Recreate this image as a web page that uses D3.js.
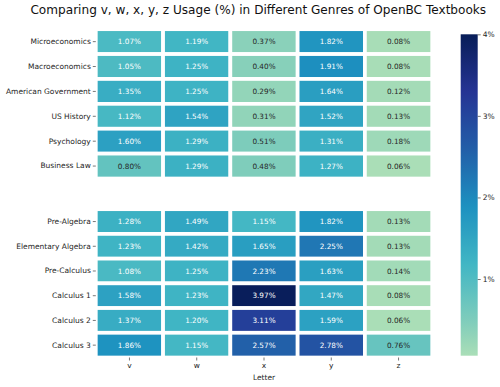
<!DOCTYPE html>
<html>
<head>
<meta charset="utf-8">
<script src="https://cdn.jsdelivr.net/npm/d3@7"></script>
<style>
  html, body { margin: 0; padding: 0; background: #fff; }
  svg { display: block; font-family: "DejaVu Sans", sans-serif; }
</style>
</head>
<body>
<svg id="chart" width="500" height="387"></svg>
<script>
// ---- data ----
const letters = ["v", "w", "x", "y", "z"];
const topGenres = ["Microeconomics", "Macroeconomics", "American Government", "US History", "Psychology", "Business Law"];
const bottomGenres = ["Pre-Algebra", "Elementary Algebra", "Pre-Calculus", "Calculus 1", "Calculus 2", "Calculus 3"];
// values (%) per letter, rows in order topGenres then bottomGenres
const vValues = [1.07, 1.05, 1.35, 1.12, 1.60, 0.80, 1.28, 1.23, 1.08, 1.58, 1.37, 1.86];
const wValues = [1.19, 1.25, 1.25, 1.54, 1.29, 1.29, 1.49, 1.42, 1.25, 1.23, 1.20, 1.15];
const xValues = [0.37, 0.40, 0.29, 0.31, 0.51, 0.48, 1.15, 1.65, 2.23, 3.97, 3.11, 2.57];
const yValues = [1.82, 1.91, 1.64, 1.52, 1.31, 1.27, 1.82, 2.25, 1.63, 1.47, 1.59, 2.78];
const zValues = [0.08, 0.08, 0.12, 0.13, 0.18, 0.06, 0.13, 0.13, 0.14, 0.08, 0.06, 0.76];
const colorbarTicks = [1, 2, 3, 4];
const colorDomain = [0.06, 4.0];
const titleText = "Comparing v, w, x, y, z Usage (%) in Different Genres of OpenBC Textbooks";
const xAxisLabel = "Letter";

const series = { v: vValues, w: wValues, x: xValues, y: yValues, z: zValues };
const allGenres = topGenres.concat(bottomGenres);

// ---- colour map (YlGnBu, lower part truncated) ----
const ylgnbu = ["#ffffd9", "#edf8b1", "#c7e9b4", "#7fcdbb", "#41b6c4", "#1d91c0", "#225ea8", "#253494", "#081d58"];
const baseCmap = d3.scaleLinear().domain(d3.range(9).map(i => i / 8)).range(ylgnbu).interpolate(d3.interpolateRgb);
const tScale = d3.scaleLinear().domain(colorDomain).range([0.3, 1.0]).clamp(true);
const color = v => baseCmap(tScale(v));

function luminance(c) {
  const rgb = d3.rgb(c);
  const f = u => { u /= 255; return u <= 0.03928 ? u / 12.92 : Math.pow((u + 0.055) / 1.055, 2.4); };
  return 0.2126 * f(rgb.r) + 0.7152 * f(rgb.g) + 0.0722 * f(rgb.b);
}

const svg = d3.select("#chart");

// ---- scales ----
const x = d3.scaleBand().domain(letters).range([95.8, 432.2]);
const yTop = d3.scaleBand().domain(topGenres).range([29.2, 178.5]);
const yBot = d3.scaleBand().domain(bottomGenres).range([209.2, 357.5]);

const cells = [];
allGenres.forEach((g, i) => {
  letters.forEach(l => cells.push({ genre: g, letter: l, value: series[l][i], top: i < topGenres.length }));
});
const yOf = d => d.top ? yTop(d.genre) : yBot(d.genre);
const bw = d => d.top ? yTop.bandwidth() : yBot.bandwidth();

const cellG = svg.append("g");
cellG.selectAll("rect").data(cells).join("rect")
  .attr("x", d => x(d.letter))
  .attr("y", d => yOf(d))
  .attr("width", x.bandwidth())
  .attr("height", d => bw(d))
  .attr("fill", d => color(d.value))
  .attr("stroke", "#fff")
  .attr("stroke-width", 3.7);

cellG.selectAll("text").data(cells).join("text")
  .attr("x", d => x(d.letter) + x.bandwidth() / 2)
  .attr("y", d => yOf(d) + bw(d) / 2)
  .attr("dy", "0.35em")
  .attr("text-anchor", "middle")
  .attr("font-size", 7.3)
  .attr("fill", d => luminance(color(d.value)) > 0.408 ? "#262626" : "#ffffff")
  .text(d => d.value.toFixed(2) + "%");

// ---- axes ----
function styleAxis(g) {
  g.select(".domain").remove();
  g.selectAll(".tick line").attr("stroke", "#555").attr("stroke-width", 0.8);
  g.selectAll(".tick text").attr("fill", "#262626").attr("font-size", 7.5).attr("font-family", "DejaVu Sans, sans-serif");
}
svg.append("g").attr("transform", "translate(95.8,0)")
  .call(d3.axisLeft(yTop).tickSize(3).tickPadding(2)).call(styleAxis);
svg.append("g").attr("transform", "translate(95.8,0)")
  .call(d3.axisLeft(yBot).tickSize(3).tickPadding(2)).call(styleAxis);
svg.append("g").attr("transform", "translate(0,357.5)")
  .call(d3.axisBottom(x).tickSize(3).tickPadding(2)).call(styleAxis);

svg.append("text")
  .attr("x", (95.8 + 432.2) / 2)
  .attr("y", 380)
  .attr("text-anchor", "middle")
  .attr("font-size", 7.5)
  .attr("fill", "#262626")
  .text(xAxisLabel);

// ---- title ----
const title = svg.append("text")
  .attr("x", 258.3)
  .attr("y", 14)
  .attr("text-anchor", "middle")
  .attr("font-size", 12)
  .attr("fill", "#111")
  .text(titleText);
const tw = title.node().getComputedTextLength();
title.attr("font-size", 12 * 456 / tw);

// ---- colorbar ----
const cbX = 460.7, cbW = 17, cbTop = 34.3, cbBottom = 355.7;
const cbScale = d3.scaleLinear().domain(colorDomain).range([cbBottom, cbTop]);
const defs = svg.append("defs");
const grad = defs.append("linearGradient").attr("id", "cbgrad")
  .attr("x1", 0).attr("y1", 1).attr("x2", 0).attr("y2", 0);
d3.range(0, 1.0001, 0.02).forEach(t => {
  const v = colorDomain[0] + t * (colorDomain[1] - colorDomain[0]);
  grad.append("stop").attr("offset", t).attr("stop-color", color(v));
});
svg.append("rect")
  .attr("x", cbX).attr("y", cbTop)
  .attr("width", cbW).attr("height", cbBottom - cbTop)
  .attr("fill", "url(#cbgrad)");
svg.append("g").attr("transform", `translate(${cbX + cbW},0)`)
  .call(d3.axisRight(cbScale).tickValues(colorbarTicks).tickFormat(d => d + "%").tickSize(3).tickPadding(2))
  .call(styleAxis);
</script>
</body>
</html>
